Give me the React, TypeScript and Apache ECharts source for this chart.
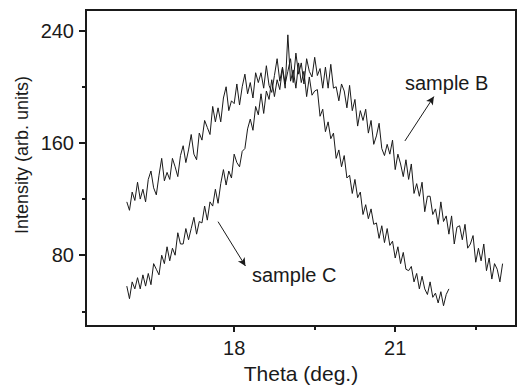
import React, { useEffect, useRef } from "react";
import * as echarts from "echarts";

// Theta (deg.) vs intensity
const sampleB: [number, number][] = [
  [16.0, 118], [16.05, 112], [16.1, 125], [16.15, 119], [16.2, 132], [16.25, 120],
  [16.3, 127], [16.35, 118], [16.4, 134], [16.45, 140], [16.5, 128],
  [16.55, 123], [16.6, 137], [16.65, 149], [16.7, 133], [16.75, 139],
  [16.8, 134], [16.85, 149], [16.9, 143], [16.95, 136], [17.0, 151],
  [17.05, 158], [17.1, 146], [17.15, 155], [17.2, 166], [17.25, 152],
  [17.3, 148], [17.35, 167], [17.4, 162], [17.45, 176], [17.5, 171],
  [17.55, 166], [17.6, 186], [17.65, 175], [17.7, 185], [17.75, 175],
  [17.8, 192], [17.85, 200], [17.9, 183], [17.95, 190], [18.0, 188],
  [18.05, 202], [18.1, 187], [18.15, 200], [18.2, 209], [18.25, 195],
  [18.3, 203], [18.35, 192], [18.4, 210], [18.45, 203], [18.5, 210],
  [18.55, 199], [18.6, 215], [18.65, 201], [18.7, 196], [18.75, 208],
  [18.8, 220], [18.85, 204], [18.9, 214], [18.95, 202], [19.0, 211],
  [19.05, 220], [19.1, 203], [19.15, 224], [19.2, 209], [19.25, 217],
  [19.3, 202], [19.35, 220], [19.4, 211], [19.45, 207], [19.5, 221],
  [19.55, 208], [19.6, 213], [19.65, 199], [19.7, 214], [19.75, 199],
  [19.8, 216], [19.85, 199], [19.9, 200], [19.95, 190], [20.0, 202],
  [20.05, 197], [20.1, 185], [20.15, 201], [20.2, 183], [20.25, 191],
  [20.3, 172], [20.35, 183], [20.4, 176], [20.45, 184], [20.5, 167],
  [20.55, 176], [20.6, 159], [20.65, 165], [20.7, 174], [20.75, 156],
  [20.8, 151], [20.85, 159], [20.9, 152], [20.95, 162], [21.0, 141],
  [21.05, 152], [21.1, 145], [21.15, 136], [21.2, 148], [21.25, 134],
  [21.3, 145], [21.35, 124], [21.4, 131], [21.45, 122], [21.5, 132],
  [21.55, 111], [21.6, 122], [21.65, 122], [21.7, 109], [21.75, 113],
  [21.8, 102], [21.85, 118], [21.9, 104], [21.95, 108], [22.0, 95],
  [22.05, 108], [22.1, 88], [22.15, 100], [22.2, 101], [22.25, 91],
  [22.3, 102], [22.35, 85], [22.4, 88], [22.45, 94], [22.5, 75],
  [22.55, 85], [22.6, 76], [22.65, 88], [22.7, 69], [22.75, 78],
  [22.8, 63], [22.85, 74], [22.9, 70], [22.95, 61], [23.0, 74],
];

const sampleC: [number, number][] = [
  [16.0, 58], [16.05, 49], [16.1, 61], [16.15, 56], [16.2, 64], [16.25, 56],
  [16.3, 66], [16.35, 58], [16.4, 67], [16.45, 59], [16.5, 74],
  [16.55, 70], [16.6, 66], [16.65, 80], [16.7, 74], [16.75, 86],
  [16.8, 76], [16.85, 85], [16.9, 80], [16.95, 96], [17.0, 88],
  [17.05, 88], [17.1, 99], [17.15, 91], [17.2, 99], [17.25, 107],
  [17.3, 95], [17.35, 104], [17.4, 103], [17.45, 115], [17.5, 105],
  [17.55, 118], [17.6, 115], [17.65, 127], [17.7, 117], [17.75, 131],
  [17.8, 141], [17.85, 130], [17.9, 140], [17.95, 135], [18.0, 152],
  [18.05, 146], [18.1, 143], [18.15, 154], [18.2, 156], [18.25, 170],
  [18.3, 177], [18.35, 169], [18.4, 186], [18.45, 180], [18.5, 195],
  [18.55, 181], [18.6, 197], [18.65, 191], [18.7, 205], [18.75, 193],
  [18.8, 205], [18.85, 198], [18.9, 213], [18.95, 199], [19.0, 237],
  [19.05, 204], [19.1, 212], [19.15, 199], [19.2, 217], [19.25, 203],
  [19.3, 211], [19.35, 193], [19.4, 207], [19.45, 194], [19.5, 197],
  [19.55, 198], [19.6, 179], [19.65, 184], [19.7, 168], [19.75, 175],
  [19.8, 163], [19.85, 167], [19.9, 149], [19.95, 155], [20.0, 143],
  [20.05, 151], [20.1, 135], [20.15, 137], [20.2, 124], [20.25, 134],
  [20.3, 121], [20.35, 125], [20.4, 109], [20.45, 116], [20.5, 106],
  [20.55, 113], [20.6, 102], [20.65, 103], [20.7, 92], [20.75, 101],
  [20.8, 89], [20.85, 99], [20.9, 87], [20.95, 90], [21.0, 78],
  [21.05, 86], [21.1, 74], [21.15, 82], [21.2, 70], [21.25, 69],
  [21.3, 72], [21.35, 61], [21.4, 67], [21.45, 56], [21.5, 65],
  [21.55, 56], [21.6, 52], [21.65, 61], [21.7, 50], [21.75, 53],
  [21.8, 46], [21.85, 54], [21.9, 44], [21.95, 52], [22.0, 56],
];

const xMajorTicks = [18, 21];
const xMinorTicks = [16.5, 19.5, 22.5];
const yMajorTicks = [80, 160, 240];
const yMinorTicks = [40, 120, 200];

const X_MIN = 15.24;
const X_MAX = 23.25;
const Y_MIN = 29.5;
const Y_MAX = 254.7;

// annotation arrows (data coords): [start, end]
const arrowB: [number, number][] = [[21.18, 161.4], [21.72, 193.0]];
const arrowC: [number, number][] = [[17.7, 103.9], [18.21, 72.3]];

const INK = "#1a1a1a";
const FONT = "'Liberation Sans', Arial, Helvetica, sans-serif";

export default function App() {
  const ref = useRef<HTMLDivElement>(null);

  useEffect(() => {
    if (!ref.current) return;
    const chart = echarts.init(ref.current, undefined, { renderer: "svg" });

    const baseX = {
      type: "value" as const,
      min: X_MIN,
      max: X_MAX,
      position: "bottom" as const,
      offset: 0,
      splitLine: { show: false },
    };
    const baseY = {
      type: "value" as const,
      min: Y_MIN,
      max: Y_MAX,
      position: "left" as const,
      offset: 0,
      splitLine: { show: false },
    };

    chart.setOption({
      animation: false,
      backgroundColor: "#ffffff",
      grid: {
        left: 86,
        right: 1,
        top: 10,
        bottom: 58,
        show: true,
        borderColor: INK,
        borderWidth: 2,
        containLabel: false,
      },
      xAxis: [
        {
          ...baseX,
          axisLine: { show: true, lineStyle: { color: INK, width: 2 } },
          axisTick: {
            show: true,
            inside: false,
            length: 6,
            customValues: xMajorTicks,
            lineStyle: { color: INK, width: 2 },
          },
          axisLabel: {
            show: true,
            customValues: xMajorTicks,
            margin: 12,
            fontSize: 20,
            color: INK,
            fontFamily: FONT,
          },
          name: "Theta (deg.)",
          nameLocation: "middle",
          nameGap: 34,
          nameTextStyle: { fontSize: 21, color: INK, fontFamily: FONT },
        },
        {
          ...baseX,
          axisLine: { show: false },
          axisTick: {
            show: true,
            inside: false,
            length: 4,
            customValues: xMinorTicks,
            lineStyle: { color: INK, width: 2 },
          },
          axisLabel: { show: false },
        },
      ],
      yAxis: [
        {
          ...baseY,
          axisLine: { show: true, lineStyle: { color: INK, width: 2 } },
          axisTick: {
            show: true,
            inside: false,
            length: 7,
            customValues: yMajorTicks,
            lineStyle: { color: INK, width: 2 },
          },
          axisLabel: {
            show: true,
            customValues: yMajorTicks,
            margin: 12,
            fontSize: 20,
            color: INK,
            fontFamily: FONT,
          },
        },
        {
          ...baseY,
          axisLine: { show: false },
          axisTick: {
            show: true,
            inside: false,
            length: 4,
            customValues: yMinorTicks,
            lineStyle: { color: INK, width: 2 },
          },
          axisLabel: { show: false },
        },
      ],
      series: [
        {
          name: "sample B",
          type: "line",
          xAxisIndex: 0,
          yAxisIndex: 0,
          data: sampleB,
          showSymbol: false,
          symbol: "none",
          lineStyle: { color: INK, width: 1 },
          silent: true,
          markLine: {
            silent: true,
            symbol: ["none", "arrow"],
            symbolSize: [6, 8],
            label: { show: false },
            lineStyle: { color: INK, width: 1, type: "solid" },
            data: [
              [{ coord: arrowB[0] }, { coord: arrowB[1] }],
              [{ coord: arrowC[0] }, { coord: arrowC[1] }],
            ],
          },
        },
        {
          name: "sample C",
          type: "line",
          xAxisIndex: 0,
          yAxisIndex: 0,
          data: sampleC,
          showSymbol: false,
          symbol: "none",
          lineStyle: { color: INK, width: 1 },
          silent: true,
        },
      ],
      graphic: [
        {
          type: "text",
          x: 22,
          y: 155,
          rotation: Math.PI / 2,
          style: {
            text: "Intensity (arb. units)",
            fontSize: 18,
            fontFamily: FONT,
            fill: INK,
            textAlign: "center",
            textVerticalAlign: "middle",
          },
        },
        {
          type: "text",
          x: 405,
          y: 83,
          style: {
            text: "sample B",
            fontSize: 20,
            fontFamily: FONT,
            fill: INK,
            textAlign: "left",
            textVerticalAlign: "middle",
          },
        },
        {
          type: "text",
          x: 252,
          y: 275,
          style: {
            text: "sample C",
            fontSize: 20,
            fontFamily: FONT,
            fill: INK,
            textAlign: "left",
            textVerticalAlign: "middle",
          },
        },
      ],
    });

    return () => chart.dispose();
  }, []);

  return (
    <div
      ref={ref}
      style={{ position: "absolute", left: 0, top: 0, width: 517, height: 389 }}
    />
  );
}
